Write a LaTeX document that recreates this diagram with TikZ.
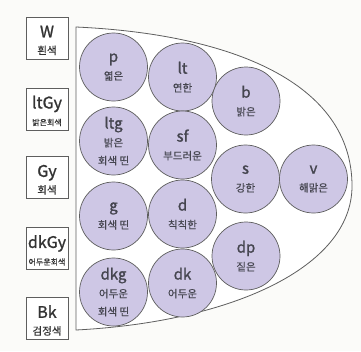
\documentclass[tikz,border=0pt]{standalone}
\usepackage{fontspec}
\setmainfont[FakeBold=0.3]{Noto Sans CJK KR}
\newfontfamily\codefont[FakeBold=1.2]{Noto Sans CJK KR}
\definecolor{tonefill}{HTML}{CEC7E5}
\definecolor{inkgray}{HTML}{333333}
\definecolor{softink}{HTML}{45454F}
\definecolor{edgegray}{HTML}{5E5E5E}
\definecolor{paper}{HTML}{FBFBF9}
\newcommand\bigcode[1]{{\codefont\fontsize{16}{17}\selectfont\rule{0pt}{16.5pt}#1}}
\newcommand\tonecode[1]{{\codefont\fontsize{15}{18}\selectfont #1}}
\begin{document}
\begin{tikzpicture}[x=1pt,y=-1pt,
  swatch/.style={draw=edgegray, line width=0.8pt, fill=white,
    minimum width=42pt, minimum height=42pt, inner sep=0pt,
    align=center, text=inkgray, font=\fontsize{10.5}{17}\selectfont},
  smalltag/.style={font=\fontsize{8}{17}\selectfont},
  tone/.style={circle, draw=edgegray, line width=0.7pt, fill=tonefill,
    minimum size=68pt, inner sep=0pt, align=center, text=softink,
    font=\fontsize{10.5}{18}\selectfont},
  hull/.style={draw=edgegray, line width=0.8pt, fill=white}]
% canvas
\fill[paper] (0,0) rectangle (361,351);
\useasboundingbox (0,0) rectangle (361,351);

% the tone region outline
\draw[hull] (76,27) .. controls (230,34) and (352,82) .. (352,186)
  .. controls (352,268) and (230,322) .. (76,330) -- cycle;

% achromatic scale
\node[swatch] (W)    at (47,38)    {\bigcode{W}\\흰색};
\node[swatch, smalltag] (ltGy) at (47,109) {\bigcode{ltGy}\\밝은회색};
\node[swatch] (Gy)   at (47,177.5) {\bigcode{Gy}\\회색};
\node[swatch, smalltag] (dkGy) at (47,248.5) {\bigcode{dkGy}\\어두운회색};
\node[swatch] (Bk)   at (47,318.5) {\bigcode{Bk}\\검정색};

% tones, column by column
\node[tone] (p)   at (113.5,67)  {\tonecode{p}\\엷은};
\node[tone] (ltg) at (113.5,141) {\tonecode{ltg}\\밝은\\회색 띤};
\node[tone] (g)   at (113.5,216) {\tonecode{g}\\회색 띤};
\node[tone] (dkg) at (113.5,292) {\tonecode{dkg}\\어두운\\회색 띤};

\node[tone] (lt)  at (182.5,77)  {\tonecode{lt}\\연한};
\node[tone] (sf)  at (182.5,145) {\tonecode{sf}\\부드러운};
\node[tone] (d)   at (182.5,214) {\tonecode{d}\\칙칙한};
\node[tone] (dk)  at (182.5,283) {\tonecode{dk}\\어두운};

\node[tone] (b)   at (246,101)   {\tonecode{b}\\밝은};
\node[tone] (s)   at (245.5,179) {\tonecode{s}\\강한};
\node[tone] (dp)  at (246,256)   {\tonecode{dp}\\짙은};

\node[tone] (v)   at (313.5,179) {\tonecode{v}\\해맑은};
\end{tikzpicture}
\end{document}
